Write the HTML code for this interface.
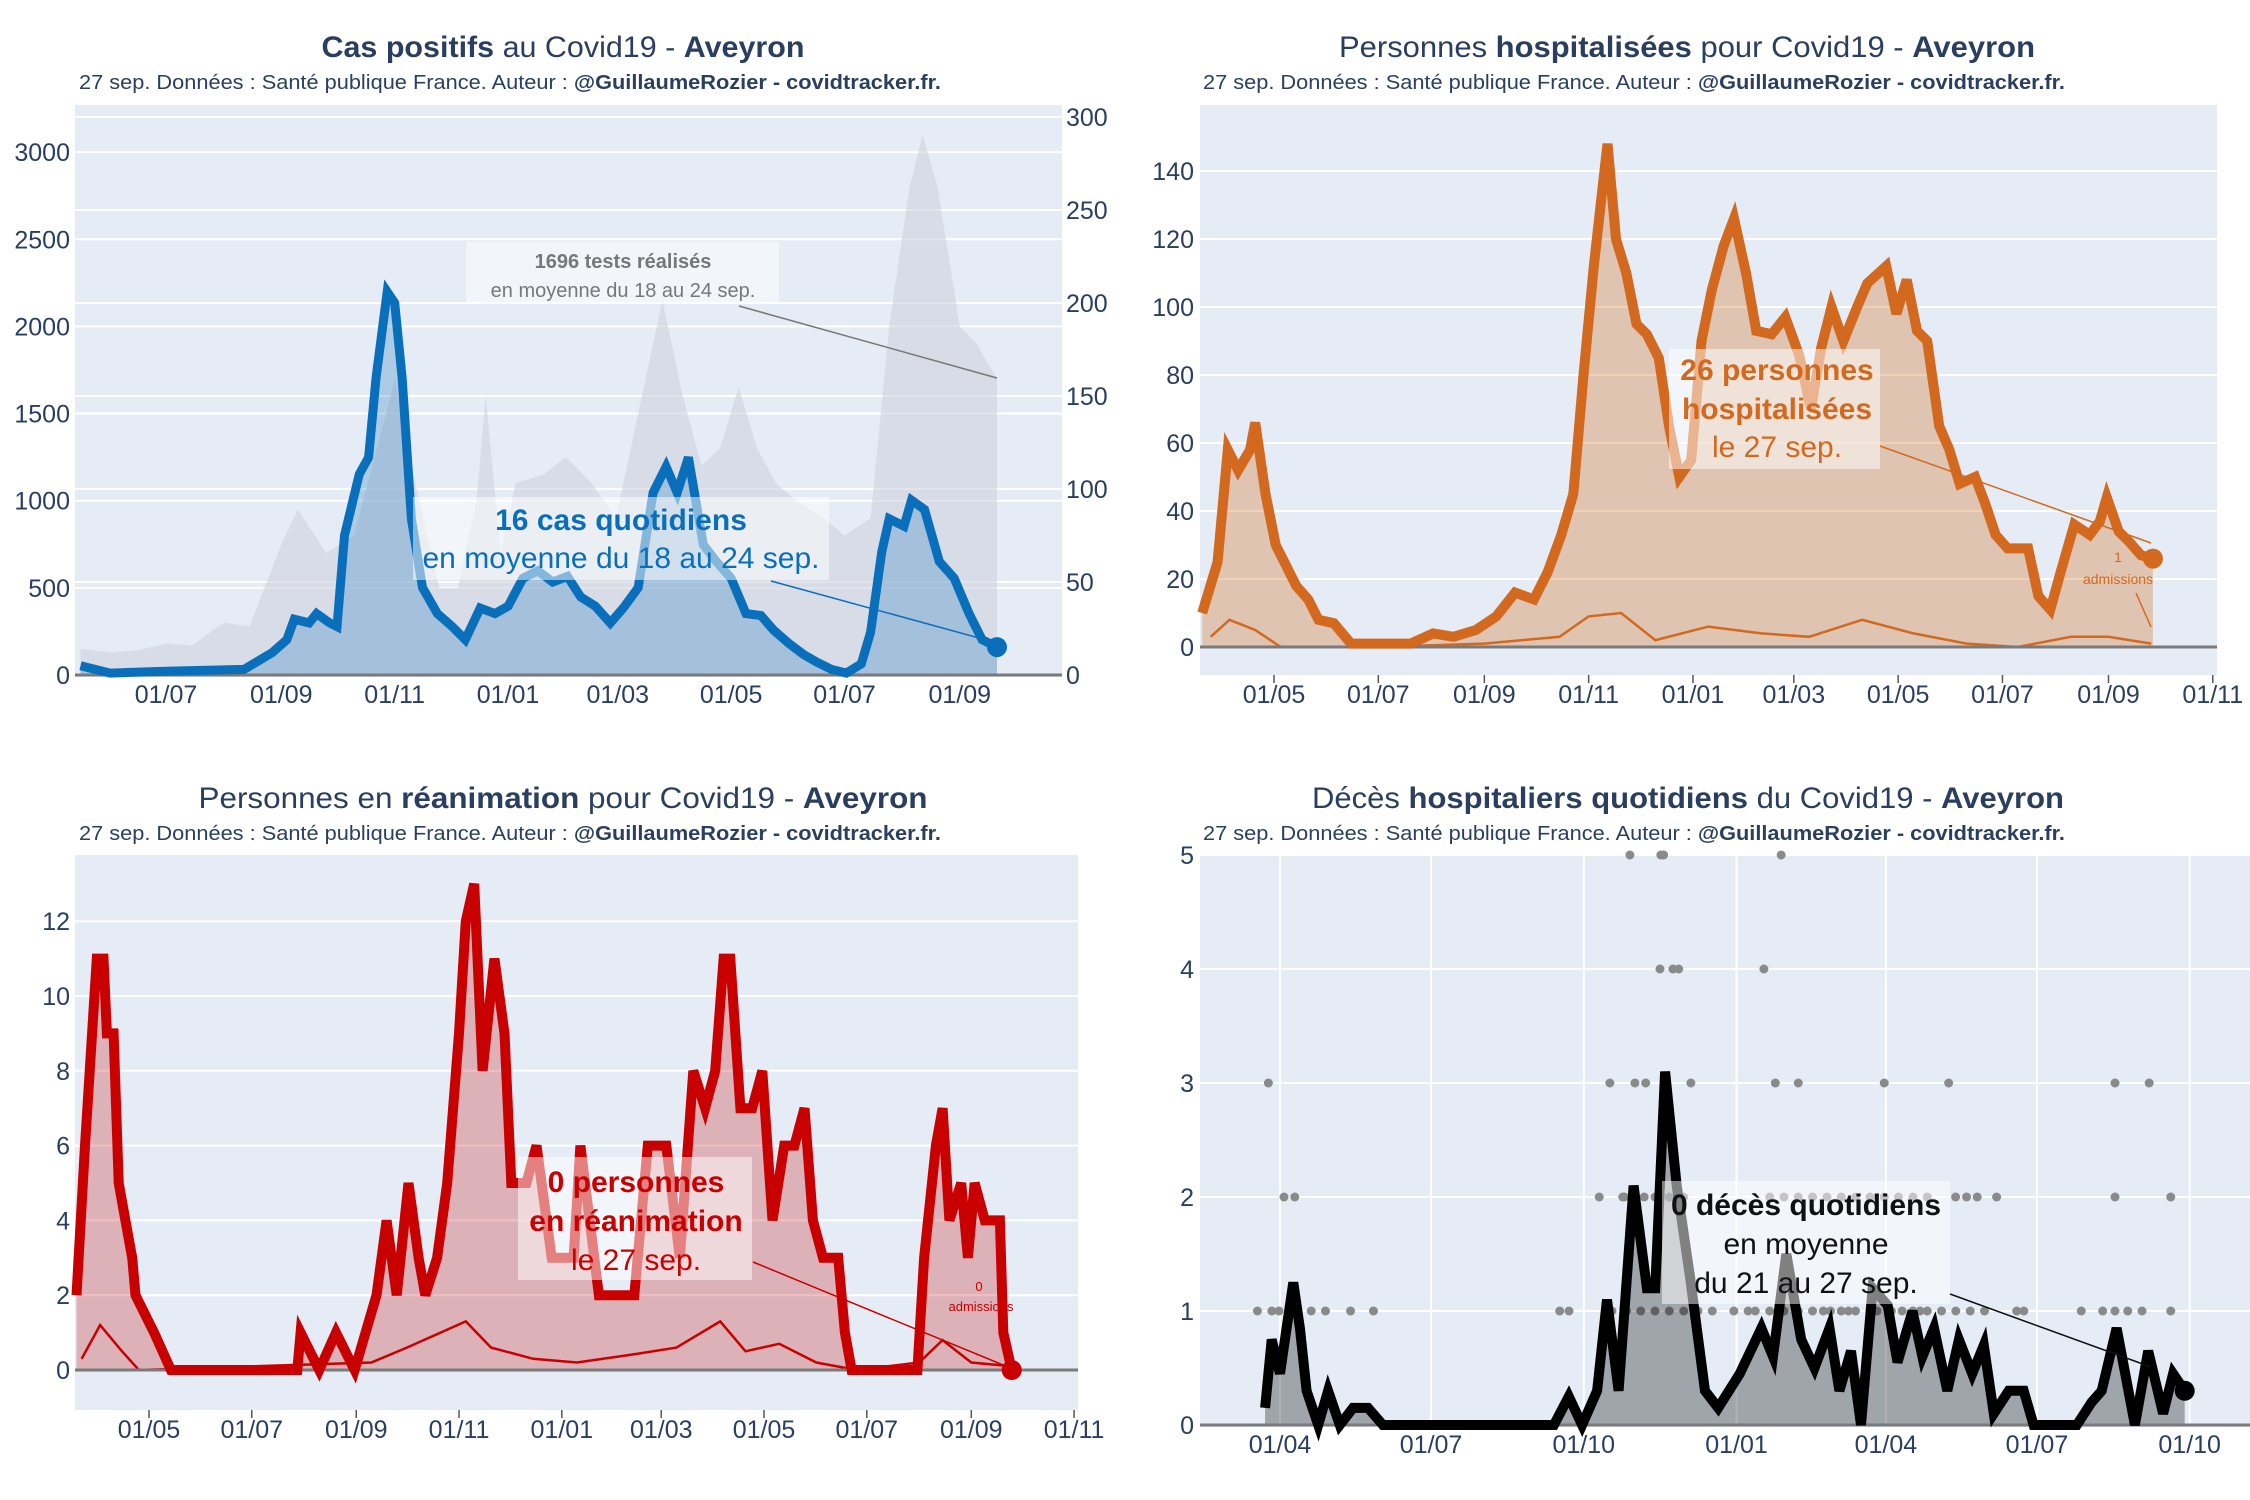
<!DOCTYPE html>
<html><head><meta charset="utf-8"><title>Covid19 Aveyron</title>
<style>html,body{margin:0;padding:0;background:#fff}svg{display:block}text{font-family:"Liberation Sans",sans-serif}</style>
</head><body>
<svg id="root" xmlns="http://www.w3.org/2000/svg" width="2250" height="1500" viewBox="0 0 2250 1500"></svg>
<script>
// ---------- DATA ----------
// Chart 1: cases (right axis) and tests (left axis)
const casesDates = ["2020-05-16","2020-06-01","2020-07-01","2020-08-12","2020-08-27","2020-09-04","2020-09-08","2020-09-16","2020-09-20","2020-09-27","2020-10-01","2020-10-05","2020-10-13","2020-10-18","2020-10-22","2020-10-28","2020-11-01","2020-11-05","2020-11-10","2020-11-16","2020-11-24","2020-12-02","2020-12-09","2020-12-17","2020-12-25","2021-01-01","2021-01-09","2021-01-17","2021-01-25","2021-02-02","2021-02-09","2021-02-17","2021-02-25","2021-03-04","2021-03-12","2021-03-20","2021-03-27","2021-04-02","2021-04-08","2021-04-16","2021-04-23","2021-05-01","2021-05-09","2021-05-17","2021-05-24","2021-06-01","2021-06-09","2021-06-16","2021-06-24","2021-07-02","2021-07-10","2021-07-15","2021-07-21","2021-07-25","2021-08-02","2021-08-06","2021-08-13","2021-08-21","2021-08-29","2021-09-06","2021-09-13","2021-09-21"];
const casesValues = [5,1,2,3,12,19,30,28,33,28,26,75,108,117,160,206,200,160,84,47,33,26,19,36,33,37,52,56,50,53,42,37,28,36,47,98,112,98,117,70,61,52,33,32,24,17,11,7,3,1,6,23,66,84,80,94,89,61,52,33,19,15];
const testsDates = ["2020-05-16","2020-06-01","2020-06-15","2020-07-01","2020-07-15","2020-08-01","2020-08-15","2020-09-01","2020-09-10","2020-09-25","2020-10-10","2020-10-25","2020-11-01","2020-11-10","2020-11-25","2020-12-05","2020-12-15","2020-12-20","2020-12-28","2021-01-05","2021-01-20","2021-02-01","2021-02-15","2021-02-28","2021-03-10","2021-03-25","2021-04-05","2021-04-15","2021-04-25","2021-05-05","2021-05-15","2021-05-25","2021-06-05","2021-06-20","2021-07-01","2021-07-15","2021-07-25","2021-08-05","2021-08-12","2021-08-20","2021-09-01","2021-09-10","2021-09-21"];
const testsValues = [150,130,140,180,170,300,280,750,950,700,800,1400,1700,1200,500,500,1000,1600,700,1100,1150,1250,1100,900,1400,2150,1600,1200,1300,1650,1300,1100,1000,900,800,900,2000,2800,3100,2800,2000,1900,1700];
const casesLeftTicks = [0,500,1000,1500,2000,2500,3000];
const casesRightTicks = [0,50,100,150,200,250,300];
const casesXTicks = ["2020-07-01","2020-09-01","2020-11-01","2021-01-01","2021-03-01","2021-05-01","2021-07-01","2021-09-01"];

// Chart 2: hospitalised
const hospDates = ["2020-03-20","2020-03-29","2020-04-04","2020-04-10","2020-04-17","2020-04-20","2020-04-26","2020-05-02","2020-05-08","2020-05-14","2020-05-21","2020-05-27","2020-06-05","2020-06-15","2020-07-20","2020-08-02","2020-08-14","2020-08-27","2020-09-08","2020-09-19","2020-09-30","2020-10-08","2020-10-16","2020-10-23","2020-10-29","2020-11-04","2020-11-08","2020-11-12","2020-11-17","2020-11-23","2020-11-29","2020-12-05","2020-12-12","2020-12-18","2020-12-24","2020-12-31","2021-01-06","2021-01-12","2021-01-19","2021-01-25","2021-02-01","2021-02-07","2021-02-16","2021-02-24","2021-03-04","2021-03-11","2021-03-17","2021-03-23","2021-03-30","2021-04-07","2021-04-13","2021-04-24","2021-04-30","2021-05-06","2021-05-12","2021-05-18","2021-05-25","2021-05-31","2021-06-06","2021-06-15","2021-06-21","2021-06-27","2021-07-04","2021-07-16","2021-07-22","2021-07-29","2021-08-04","2021-08-12","2021-08-21","2021-08-27","2021-08-31","2021-09-07","2021-09-13","2021-09-20","2021-09-27"];
const hospValues = [10,25,58,52,58,66,45,30,24,18,14,8,7,1,1,4,3,5,9,16,14,22,33,45,80,112,130,148,120,110,95,92,85,65,50,55,90,105,118,126,110,93,92,97,86,70,88,100,90,100,107,112,98,108,93,90,65,58,48,50,42,33,29,29,15,11,22,36,33,37,44,34,31,27,26];
const hospAdmDates = ["2020-03-25","2020-04-05","2020-04-20","2020-05-05","2020-07-01","2020-09-01","2020-10-15","2020-11-01","2020-11-20","2020-12-10","2021-01-10","2021-02-10","2021-03-10","2021-04-10","2021-05-10","2021-06-10","2021-07-10","2021-08-10","2021-09-01","2021-09-26"];
const hospAdmValues = [3,8,5,0,0,1,3,9,10,2,6,4,3,8,4,1,0,3,3,1];
const hospYTicks = [0,20,40,60,80,100,120,140];
const hospXTicks = ["2020-05-01","2020-07-01","2020-09-01","2020-11-01","2021-01-01","2021-03-01","2021-05-01","2021-07-01","2021-09-01","2021-11-01"];

// Chart 3: ICU
const reaDates = ["2020-03-19","2020-03-24","2020-03-31","2020-04-04","2020-04-06","2020-04-10","2020-04-13","2020-04-17","2020-04-21","2020-04-23","2020-05-04","2020-05-14","2020-07-28","2020-07-30","2020-08-10","2020-08-20","2020-08-31","2020-09-13","2020-09-19","2020-09-25","2020-10-02","2020-10-08","2020-10-12","2020-10-19","2020-10-25","2020-11-01","2020-11-05","2020-11-10","2020-11-15","2020-11-22","2020-11-28","2020-12-02","2020-12-11","2020-12-17","2020-12-26","2021-01-08","2021-01-12","2021-01-23","2021-02-02","2021-02-13","2021-02-21","2021-03-04","2021-03-12","2021-03-20","2021-03-27","2021-04-02","2021-04-07","2021-04-11","2021-04-17","2021-04-24","2021-04-30","2021-05-06","2021-05-13","2021-05-19","2021-05-25","2021-05-30","2021-06-05","2021-06-14","2021-06-18","2021-06-22","2021-07-31","2021-08-04","2021-08-11","2021-08-15","2021-08-19","2021-08-26","2021-08-30","2021-09-03","2021-09-09","2021-09-18","2021-09-20","2021-09-25"];
const reaValues = [2,6,11,11,9,9,5,4,3,2,1,0,0,1,0,1,0,2,4,2,5,3,2,3,5,9,12,13,8,11,9,5,5,6,3,3,6,2,2,2,6,6,3,8,7,8,11,11,7,7,8,4,6,6,7,4,3,3,1,0,0,3,6,7,4,5,3,5,4,4,1,0];
const reaAdmDates = ["2020-03-22","2020-04-02","2020-04-15","2020-04-25","2020-09-10","2020-10-01","2020-11-05","2020-11-20","2020-12-15","2021-01-10","2021-02-10","2021-03-10","2021-04-05","2021-04-20","2021-05-10","2021-06-01","2021-06-25","2021-08-01","2021-08-15","2021-09-01","2021-09-25"];
const reaAdmValues = [0.3,1.2,0.5,0,0.2,0.6,1.3,0.6,0.3,0.2,0.4,0.6,1.3,0.5,0.7,0.2,0,0.2,0.8,0.2,0.1];
const reaYTicks = [0,2,4,6,8,10,12];
const reaXTicks = ["2020-05-01","2020-07-01","2020-09-01","2020-11-01","2021-01-01","2021-03-01","2021-05-01","2021-07-01","2021-09-01","2021-11-01"];

// Chart 4: deaths
const deathDates = ["2020-03-23","2020-03-27","2020-04-01","2020-04-05","2020-04-09","2020-04-13","2020-04-17","2020-04-24","2020-04-30","2020-05-07","2020-05-15","2020-05-24","2020-06-02","2020-09-13","2020-09-22","2020-09-30","2020-10-09","2020-10-15","2020-10-22","2020-10-31","2020-11-08","2020-11-13","2020-11-19","2020-11-26","2020-12-04","2020-12-13","2020-12-21","2021-01-03","2021-01-16","2021-01-23","2021-01-31","2021-02-09","2021-02-17","2021-02-26","2021-03-04","2021-03-11","2021-03-17","2021-03-24","2021-04-02","2021-04-08","2021-04-17","2021-04-23","2021-04-30","2021-05-08","2021-05-15","2021-05-23","2021-05-30","2021-06-05","2021-06-14","2021-06-23","2021-06-29","2021-07-25","2021-08-03","2021-08-09","2021-08-18","2021-08-29","2021-09-06","2021-09-15","2021-09-21","2021-09-28"];
const deathValues = [0.15,0.75,0.45,0.85,1.25,0.85,0.3,0,0.3,0,0.15,0.15,0,0,0.25,0,0.3,1.1,0.3,2.1,1.2,1.2,3.1,2.1,1.3,0.3,0.15,0.45,0.85,0.6,1.5,0.75,0.5,0.85,0.3,0.65,0,1.2,1.05,0.55,1,0.6,0.85,0.3,0.75,0.45,0.7,0.1,0.3,0.3,0,0,0.2,0.3,0.85,0,0.65,0.1,0.45,0.3];
const deathDotDays = [-13.6,-7,-4.9,-0.6,2.4,8.9,18.8,27.4,42.5,56.3,168.5,174.1,192.3,198.7,207.4,213.8,220.3,210.8,228.9,229.4,231.1,236.7,240.2,247.5,291.5,298.4,301.9,312.2,364,402.8,407,413.6,420,431.7,443.8,448.1,482.7,495.6,503,503,503,510.7,519.3,523.6,536.6,536.6,200,208.7,217.3,225.9,234.5,243.2,251.8,260.4,273.4,282,286.3,295,303.6,312.2,320.8,327.3,331.6,338.1,342.4,346.7,355.4,359.7,368.3,374.8,381.3,385.6,389.9,398.5,407.1,415.8,424.4,206.5,213,219.4,225.9,234.5,243.2,295,303.6,312.2,320.8,329.5,338.1,346.7,355.4,364,372.6,381.3,389.9];
const deathDotValues = [1,3,1,1,2,2,1,1,1,1,1,1,2,3,2,3,3,5,4,5,5,4,4,3,4,3,5,3,3,3,2,2,2,2,1,1,1,1,3,2,1,1,1,3,2,1,1,1,1,1,1,1,1,1,1,1,1,1,1,1,1,1,1,1,1,1,1,1,1,1,1,1,1,1,1,1,1,2,2,2,2,2,2,2,2,2,2,2,2,2,2,2,2,2,2];
const deathYTicks = [0,1,2,3,4,5];
const deathXTicks = ["2020-04-01","2020-07-01","2020-10-01","2021-01-01","2021-04-01","2021-07-01","2021-10-01"];

// ---------- RENDER ----------
const NS = "http://www.w3.org/2000/svg";
const root = document.getElementById("root");
const DAY = s => Date.UTC(+s.slice(0,4), +s.slice(5,7)-1, +s.slice(8,10)) / 864e5;
const TXT = "#2a3f5f";
function mk(tag, attrs, parent){ const e=document.createElementNS(NS,tag); for(const k in attrs) e.setAttribute(k,attrs[k]); (parent||root).appendChild(e); return e; }
function fmtTick(s){ return s.slice(8,10)+"/"+s.slice(5,7); }

function frame(g, px0, px1, py0, py1){
  const r = mk("rect",{x:px0,y:py0,width:px1-px0,height:py1-py0,fill:"#e5ecf6"},g);
  
  
}
function yAxis(g, ticks, yFn, px0, px1, labelX, anchor, name){
  ticks.forEach(v=>{
    const y=yFn(v);
    const l=mk("line",{x1:px0,x2:px1,y1:y,y2:y,stroke:"#fff","stroke-width":2},g);
    
    
    const t=mk("text",{x:labelX,y:y+9,"font-size":25,fill:TXT,"text-anchor":anchor},g);
    t.textContent=v;
    
    
  });
}
function xAxis(g, ticks, xFn, yLab, tickY0, tickY1, grid, gy0, gy1, name){
  ticks.forEach(s=>{
    const x=xFn(s);
    if(grid){
      const gl=mk("line",{x1:x,x2:x,y1:gy0,y2:gy1,stroke:"#fff","stroke-width":2},g);
      
      
    }
    if(tickY0!==null){
      const tk=mk("line",{x1:x,x2:x,y1:tickY0,y2:tickY1,stroke:"#555","stroke-width":1.5},g);
      
      
    }
    const t=mk("text",{x:x,y:yLab,"font-size":25,fill:TXT,"text-anchor":"middle"},g);
    t.textContent=fmtTick(s);
    
    
  });
}
function pathFrom(dates, vals, xFn, yFn){
  return dates.map((d,i)=>(i?"L":"M")+xFn(d).toFixed(1)+","+yFn(vals[i]).toFixed(1)).join(" ");
}
function area(g, dates, vals, xFn, yFn, y0, fill, name){
  const d=pathFrom(dates,vals,xFn,yFn)+" L"+xFn(dates[dates.length-1]).toFixed(1)+","+y0+" L"+xFn(dates[0]).toFixed(1)+","+y0+" Z";
  const p=mk("path",{d:d,fill:fill,stroke:"none"},g);
  
  
  return p;
}
function line(g, dates, vals, xFn, yFn, color, w, name){
  const p=mk("path",{d:pathFrom(dates,vals,xFn,yFn),fill:"none",stroke:color,"stroke-width":w,"stroke-linejoin":"miter"},g);
  
  
  return p;
}
function endDot(g, x, y, r, color, name){
  const c=mk("circle",{cx:x,cy:y,r:r,fill:color},g);
  
  
}
function title(g, cx, y, parts, width){
  const t=mk("text",{x:cx,y:y,"font-size":30,fill:TXT,"text-anchor":"middle",textLength:width,lengthAdjust:"spacingAndGlyphs"},g);
  parts.forEach(p=>{ const s=mk("tspan",{"font-weight":p[1]?"bold":"normal"},t); s.textContent=p[0]; });
  
  
}
function subtitle(g, x, y){
  const t=mk("text",{x:x,y:y,"font-size":20,fill:TXT,textLength:862,lengthAdjust:"spacingAndGlyphs"},g);
  const a=mk("tspan",{},t); a.textContent="27 sep. Données : Santé publique France. Auteur : ";
  const b=mk("tspan",{"font-weight":"bold"},t); b.textContent="@GuillaumeRozier - covidtracker.fr.";
  
  
}
function annot(g, box, lines, color, size, cx, ys, arrow, name){
  const r=mk("rect",{x:box[0],y:box[1],width:box[2]-box[0],height:box[3]-box[1],fill:"rgba(255,255,255,0.5)"},g);
  
  
  lines.forEach((ln,i)=>{
    const t=mk("text",{x:cx,y:ys[i],"font-size":size,fill:color,"text-anchor":"middle","font-weight":ln[1]?"bold":"normal"},g);
    t.textContent=ln[0];
    
    
  });
  const a=mk("line",{x1:arrow[0],y1:arrow[1],x2:arrow[2],y2:arrow[3],stroke:color,"stroke-width":1.5},g);
  
  
}

// ----- Chart 1 -----
(function(){
  const g=mk("g",{});
  
  
  const x=d=>166+(DAY(d)-DAY("2020-07-01"))*1.859;
  const yL=v=>675-v*0.1743;
  const yR=v=>675-v*1.86;
  frame(g,75,1062,105,677);
  yAxis(g,casesRightTicks,yR,75,1062,1066,"start","cases-right-axis");
  yAxis(g,casesLeftTicks,yL,75,1062,70,"end","cases-left-axis");
  area(g,testsDates,testsValues,x,yL,675,"rgba(205,210,220,0.6)","tests-area");
  area(g,casesDates,casesValues,x,yR,675,"rgba(60,135,195,0.32)","cases-area");
  const z=mk("line",{x1:75,x2:1062,y1:675,y2:675,stroke:"#7a7a7a","stroke-width":3},g);
  
  
  line(g,casesDates,casesValues,x,yR,"#0a6fba",9,"cases-line");
  const ld=casesDates[casesDates.length-1];
  endDot(g,x(ld),yR(casesValues[casesValues.length-1]),10,"#0a6fba","cases-last-point");
  xAxis(g,casesXTicks,x,703,null,null,false,0,0,"cases-x-axis");
  title(g,563,57,[["Cas positifs",1],[" au Covid19 - ",0],["Aveyron",1]],483);
  subtitle(g,79,89);
  annot(g,[466,242,779,303],[["1696 tests réalisés",1],["en moyenne du 18 au 24 sep.",0]],"#777",20,623,[268,297],[739,306,997,378],"tests-annotation");
  annot(g,[413,497,829,580],[["16 cas quotidiens",1],["en moyenne du 18 au 24 sep.",0]],"#0a6fba",30,621,[530,568],[771,581,990,641],"cases-annotation");
})();

// ----- Chart 2 -----
(function(){
  const g=mk("g",{});
  
  
  const x=d=>1274+(DAY(d)-DAY("2020-05-01"))*1.710;
  const y=v=>647-v*3.4;
  frame(g,1200,2217,105,675);
  yAxis(g,hospYTicks,y,1200,2217,1194,"end","hospital-y-axis");
  area(g,hospDates,hospValues,x,y,647,"rgba(209,102,21,0.3)","hospital-area");
  line(g,hospAdmDates,hospAdmValues,x,y,"#d2691e",2.5,"admissions-line");
  const z=mk("line",{x1:1200,x2:2217,y1:647,y2:647,stroke:"#7a7a7a","stroke-width":3},g);
  
  
  line(g,hospDates,hospValues,x,y,"#d2691e",10,"hospital-line");
  endDot(g,x(hospDates[hospDates.length-1]),y(hospValues[hospValues.length-1]),10,"#d2691e","hospital-last-point");
  xAxis(g,hospXTicks,x,703,675,683,false,0,0,"hospital-x-axis");
  title(g,1687,57,[["Personnes ",0],["hospitalisées",1],[" pour Covid19 - ",0],["Aveyron",1]],696);
  subtitle(g,1203,89);
  annot(g,[1669,349,1880,469],[["26 personnes",1],["hospitalisées",1],["le 27 sep.",0]],"#d2691e",30,1777,[380,419,457],[1880,446,2151,543],"hospital-annotation");
  const t1=mk("text",{x:2118,y:562,"font-size":14,fill:"#d2691e","text-anchor":"middle"},g); t1.textContent="1";
  
  
  const t2=mk("text",{x:2118,y:584,"font-size":14,fill:"#d2691e","text-anchor":"middle"},g); t2.textContent="admissions";
  
  
  const a=mk("line",{x1:2136,y1:593,x2:2151,y2:627,stroke:"#d2691e","stroke-width":1.5},g);
  
  
})();

// ----- Chart 3 -----
(function(){
  const g=mk("g",{});
  
  
  const x=d=>149+(DAY(d)-DAY("2020-05-01"))*1.685;
  const y=v=>1370-v*37.4;
  frame(g,75,1078,855,1410);
  yAxis(g,reaYTicks,y,75,1078,70,"end","icu-y-axis");
  area(g,reaDates,reaValues,x,y,1370,"rgba(200,0,0,0.25)","icu-area");
  line(g,reaAdmDates,reaAdmValues,x,y,"#c80000",2.5,"icu-admissions-line");
  const z=mk("line",{x1:75,x2:1078,y1:1370,y2:1370,stroke:"#7a7a7a","stroke-width":3},g);
  
  
  line(g,reaDates,reaValues,x,y,"#c80000",10,"icu-line");
  endDot(g,x(reaDates[reaDates.length-1]),y(reaValues[reaValues.length-1]),10,"#c80000","icu-last-point");
  xAxis(g,reaXTicks,x,1438,1410,1418,false,0,0,"icu-x-axis");
  title(g,563,808,[["Personnes en ",0],["réanimation",1],[" pour Covid19 - ",0],["Aveyron",1]],729);
  subtitle(g,79,840);
  annot(g,[518,1157,752,1280],[["0 personnes",1],["en réanimation",1],["le 27 sep.",0]],"#c80000",30,636,[1192,1231,1270],[753,1262,1008,1367],"icu-annotation");
  const t1=mk("text",{x:979,y:1291,"font-size":13,fill:"#c80000","text-anchor":"middle"},g); t1.textContent="0";
  
  
  const t2=mk("text",{x:981,y:1311,"font-size":13,fill:"#c80000","text-anchor":"middle"},g); t2.textContent="admissions";
  
  
})();

// ----- Chart 4 -----
(function(){
  const g=mk("g",{});
  
  
  const x=d=>1280+(DAY(d)-DAY("2020-04-01"))*1.66;
  const xd=n=>1280+n*1.66;
  const y=v=>1425-v*114;
  frame(g,1200,2250,855,1427);
  yAxis(g,deathYTicks,y,1200,2250,1194,"end","deaths-y-axis");
  xAxis(g,deathXTicks,x,1453,null,null,true,855,1427,"deaths-x-axis");
  deathDotDays.forEach((n,i)=>{
    const c=mk("circle",{cx:xd(n),cy:y(deathDotValues[i]),r:4.5,fill:"#8a8a8a"},g);
    
    
  });
  area(g,deathDates,deathValues,x,y,1425,"rgba(0,0,0,0.3)","deaths-area");
  const z=mk("line",{x1:1200,x2:2250,y1:1425,y2:1425,stroke:"#7a7a7a","stroke-width":3},g);
  
  
  line(g,deathDates,deathValues,x,y,"#000",10,"deaths-line");
  endDot(g,x(deathDates[deathDates.length-1]),y(deathValues[deathValues.length-1]),10,"#000","deaths-last-point");
  title(g,1688,808,[["Décès ",0],["hospitaliers quotidiens",1],[" du Covid19 - ",0],["Aveyron",1]],752);
  subtitle(g,1203,840);
  annot(g,[1662,1181,1950,1304],[["0 décès quotidiens",1],["en moyenne",0],["du 21 au 27 sep.",0]],"#111",30,1806,[1215,1254,1293],[1950,1294,2151,1367],"deaths-annotation");
})();
</script>
</body></html>
